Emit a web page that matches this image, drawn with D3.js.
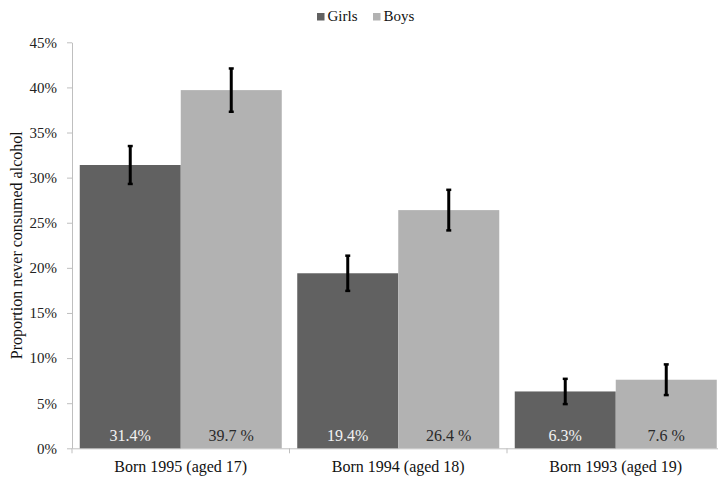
<!DOCTYPE html>
<html>
<head>
<meta charset="utf-8">
<script src="https://cdn.jsdelivr.net/npm/d3@7"></script>
<style>
  html, body { margin: 0; padding: 0; background: #fff; }
  svg { display: block; }
</style>
</head>
<body>
<svg id="chart" width="718" height="478"></svg>
<script>
const categories = ["Born 1995 (aged 17)", "Born 1994 (aged 18)", "Born 1993 (aged 19)"];
const seriesNames = ["Girls", "Boys"];
const girls = [31.4, 19.4, 6.3];
const boys = [39.7, 26.4, 7.6];
const girlsErr = [2.1, 1.95, 1.4];
const boysErr = [2.4, 2.25, 1.7];
const girlsLabels = ["31.4%", "19.4%", "6.3%"];
const boysLabels = ["39.7 %", "26.4 %", "7.6 %"];
const yTicks = [0, 5, 10, 15, 20, 25, 30, 35, 40, 45];
const colors = ["#616161", "#b2b2b2"];
const labelColors = ["#f2f2f2", "#2a2a2a"];
const FONT = '"Liberation Serif"';

const svg = d3.select("#chart");
const x0 = 72, x1 = 724.5, yTop = 42.3, yBot = 448.3;

const x = d3.scaleBand().domain(categories).range([x0, x1]).paddingInner(0).paddingOuter(0);
const xs = d3.scaleBand().domain(seriesNames).range([0, x.bandwidth()]).paddingInner(0).paddingOuter(0.0767);
const y = d3.scaleLinear().domain([0, 45]).range([yBot, yTop]);

const data = categories.map((c, i) => ({
  cat: c,
  vals: [
    { s: "Girls", v: girls[i], e: girlsErr[i], lab: girlsLabels[i], k: 0 },
    { s: "Boys", v: boys[i], e: boysErr[i], lab: boysLabels[i], k: 1 }
  ]
}));

// Y axis
const yAxis = d3.axisLeft(y).tickValues(yTicks).tickFormat(d => d + "%").tickSize(5).tickSizeOuter(0);
const gy = svg.append("g").attr("transform", `translate(${x0},0)`).call(yAxis);
gy.select(".domain").attr("stroke", "#bfbfbf");
gy.selectAll(".tick line").attr("stroke", "#bfbfbf");
gy.selectAll(".tick text").attr("font-size", 15).attr("fill", "#222").attr("x", -15)
  .style("font-family", FONT);

// X axis
const xAxis = d3.axisBottom(x).tickSize(0).tickSizeOuter(0);
const gx = svg.append("g").attr("transform", `translate(0,${yBot})`).call(xAxis);
gx.select(".domain").attr("stroke", "#bfbfbf");
gx.selectAll(".tick text").attr("font-size", 16).attr("fill", "#111").attr("dy", 0).attr("y", 24)
  .style("font-family", FONT);
gx.selectAll(".bound").data(categories).enter().append("line")
  .attr("x1", d => x(d)).attr("x2", d => x(d)).attr("y1", 0).attr("y2", 5)
  .attr("stroke", "#bfbfbf");

// Bars
const groups = svg.append("g").selectAll("g").data(data).enter().append("g")
  .attr("transform", d => `translate(${x(d.cat)},0)`);

groups.selectAll("rect").data(d => d.vals).enter().append("rect")
  .attr("x", d => xs(d.s)).attr("width", xs.bandwidth())
  .attr("y", d => y(d.v)).attr("height", d => y(0) - y(d.v))
  .attr("fill", d => colors[d.k]);

groups.selectAll("text.vl").data(d => d.vals).enter().append("text")
  .attr("class", "vl")
  .attr("x", d => xs(d.s) + xs.bandwidth() / 2).attr("y", 441)
  .attr("text-anchor", "middle").attr("font-size", 16)
  .style("font-family", FONT)
  .attr("fill", d => labelColors[d.k]).text(d => d.lab);

// Error bars
const eb = groups.selectAll("g.eb").data(d => d.vals).enter().append("g").attr("class", "eb");
eb.append("line")
  .attr("x1", d => xs(d.s) + xs.bandwidth() / 2).attr("x2", d => xs(d.s) + xs.bandwidth() / 2)
  .attr("y1", d => y(d.v + d.e)).attr("y2", d => y(d.v - d.e))
  .attr("stroke", "#000").attr("stroke-width", 3);
["+", "-"].forEach(sgn => {
  eb.append("line")
    .attr("x1", d => xs(d.s) + xs.bandwidth() / 2 - 2.5).attr("x2", d => xs(d.s) + xs.bandwidth() / 2 + 2.5)
    .attr("y1", d => y(sgn === "+" ? d.v + d.e : d.v - d.e))
    .attr("y2", d => y(sgn === "+" ? d.v + d.e : d.v - d.e))
    .attr("stroke", "#000").attr("stroke-width", 2.5);
});

// Y title
svg.append("text")
  .attr("transform", `translate(22,${(yTop + yBot) / 2}) rotate(-90)`)
  .attr("text-anchor", "middle").attr("font-size", 16).attr("fill", "#111")
  .style("font-family", FONT)
  .text("Proportion never consumed alcohol");

// Legend
const legend = svg.append("g");
const legX = [317, 373];
seriesNames.forEach((s, i) => {
  legend.append("rect").attr("x", legX[i]).attr("y", 13).attr("width", 7.5).attr("height", 7.5).attr("fill", colors[i]);
  legend.append("text").attr("x", legX[i] + 10.5).attr("y", 21).attr("font-size", 15).attr("fill", "#111")
    .style("font-family", FONT).text(s);
});
</script>
</body>
</html>
